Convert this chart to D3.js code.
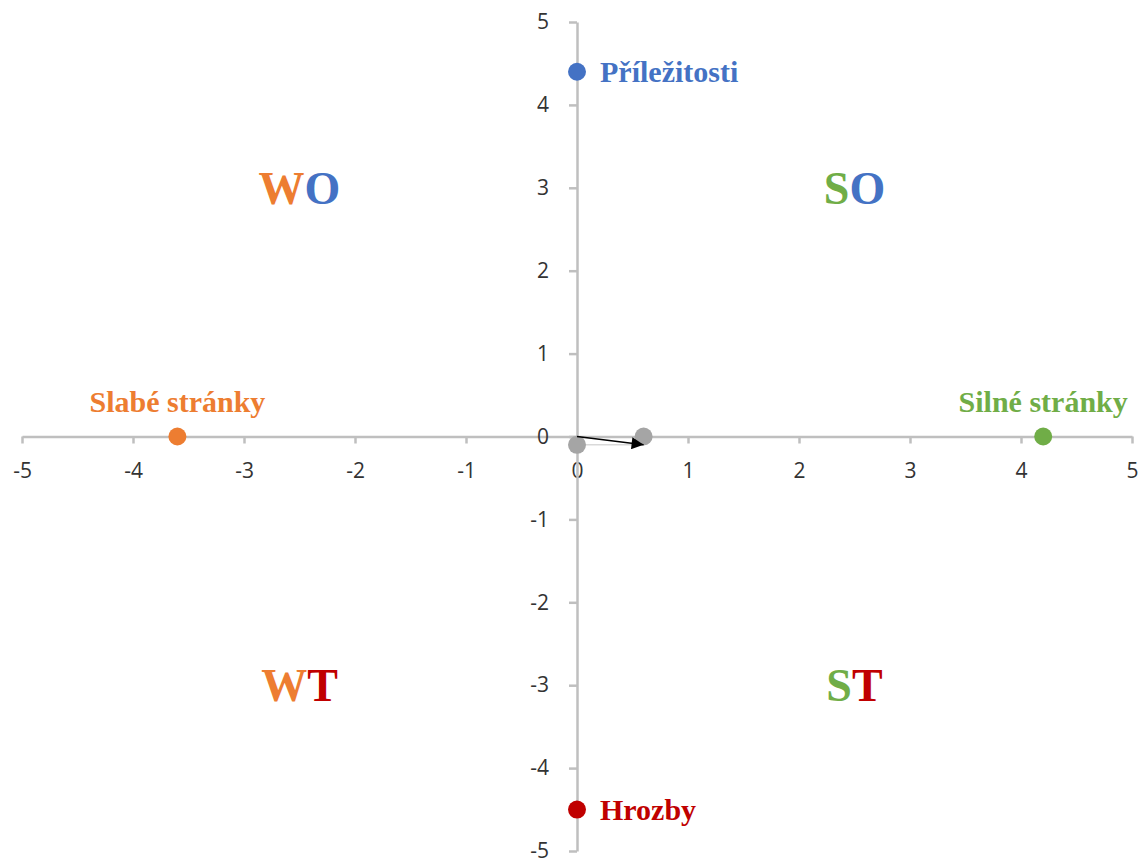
<!DOCTYPE html>
<html>
<head>
<meta charset="utf-8">
<script src="https://cdn.jsdelivr.net/npm/d3@7"></script>
<style>
  body { margin: 0; background: #fff; }
  #svg { width: 1145px; height: 860px; display: block; }
  .axis text { font-family: 'Open Sans', 'Noto Sans', sans-serif; font-size: 21px; fill: #333; }
  .axis path, .axis line { stroke: #bfbfbf; stroke-width: 2.5; }
  .lbl { font-family: 'Liberation Serif', 'Times New Roman', serif; font-weight: bold; }
</style>
</head>
<body>
<svg id="svg"></svg>
<script>
// SWOT points
const pointNames = ['Příležitosti', 'Hrozby', 'Slabé stránky', 'Silné stránky'];
const pointX = [0, 0, -3.6, 4.2];
const pointY = [4.4, -4.5, 0, 0];

// result projections and vector
const grayX = [0, 0.6];
const grayY = [-0.1, 0];
const vectorX = [0, 0.6];
const vectorY = [0, -0.1];

// quadrant captions
const quadrantNames = ['WO', 'SO', 'WT', 'ST'];
const quadrantX = [-2.5, 2.5, -2.5, 2.5];
const quadrantY = [3, 3, -3, -3];

const xTicks = [-5, -4, -3, -2, -1, 0, 1, 2, 3, 4, 5];
const yTicks = [-5, -4, -3, -2, -1, 0, 1, 2, 3, 4, 5];

const colors = {
  'Příležitosti': '#4472c4',
  'Hrozby': '#c00000',
  'Slabé stránky': '#ed7d31',
  'Silné stránky': '#70ad47',
  W: '#ed7d31', S: '#70ad47', O: '#4472c4', T: '#c00000'
};

window.onload = function() {
  const svg = d3.select('#svg');
  const x = d3.scaleLinear().domain([-5, 5]).range([22, 1132]);
  const y = d3.scaleLinear().domain([-5, 5]).range([851, 22]);
  const fmt = d => String(d);

  svg.append('g')
    .classed('axis', true)
    .attr('transform', 'translate(0,' + y(0) + ')')
    .call(d3.axisBottom(x).tickValues(xTicks).tickFormat(fmt).tickSizeInner(7).tickSizeOuter(0).tickPadding(20));

  svg.append('g')
    .classed('axis', true)
    .attr('transform', 'translate(' + x(0) + ',0)')
    .call(d3.axisLeft(y).tickValues(yTicks).tickFormat(fmt).tickSizeInner(8).tickSizeOuter(0).tickPadding(20));

  // quadrant captions
  quadrantNames.forEach((q, i) => {
    const t = svg.append('text')
      .classed('lbl', true)
      .attr('x', x(quadrantX[i]))
      .attr('y', y(quadrantY[i]))
      .attr('text-anchor', 'middle')
      .attr('dy', '0.35em')
      .style('font-size', '46px');
    q.split('').forEach(ch => {
      t.append('tspan').attr('fill', colors[ch]).text(ch);
    });
  });

  // faint connector and gray points
  svg.append('line')
    .attr('x1', x(grayX[0]))
    .attr('y1', y(grayY[0]))
    .attr('x2', x(grayX[1]))
    .attr('y2', y(grayY[0]))
    .style('stroke', '#d9d9d9')
    .style('stroke-width', 1.5);

  svg.append('g')
    .selectAll('circle')
    .data(grayX)
    .enter()
    .append('circle')
    .attr('cx', d => x(d))
    .attr('cy', (d, i) => y(grayY[i]))
    .attr('r', 9)
    .attr('fill', '#a5a5a5');

  // vector arrow
  svg.append('defs')
    .append('marker')
    .attr('id', 'arrow')
    .attr('viewBox', '0 0 10 10')
    .attr('refX', 10)
    .attr('refY', 5)
    .attr('markerWidth', 12)
    .attr('markerHeight', 8)
    .attr('markerUnits', 'strokeWidth')
    .attr('orient', 'auto')
    .append('path')
    .attr('d', 'M0,0L10,5L0,10z')
    .attr('fill', '#000');

  svg.append('line')
    .attr('x1', x(vectorX[0]))
    .attr('y1', y(vectorY[0]))
    .attr('x2', x(vectorX[1]))
    .attr('y2', y(vectorY[1]))
    .style('stroke', '#000')
    .style('stroke-width', 1.5)
    .attr('marker-end', 'url(#arrow)');

  // SWOT points + labels
  const pts = svg.append('g');
  pointNames.forEach((name, i) => {
    const cx = x(pointX[i]);
    const cy = y(pointY[i]);
    pts.append('circle')
      .attr('cx', cx)
      .attr('cy', cy)
      .attr('r', 9)
      .attr('fill', colors[name]);

    const onYAxis = pointX[i] === 0;
    pts.append('text')
      .classed('lbl', true)
      .attr('x', onYAxis ? cx + 23 : cx)
      .attr('y', onYAxis ? cy : cy - 35)
      .attr('dy', '0.35em')
      .attr('text-anchor', onYAxis ? 'start' : 'middle')
      .attr('fill', colors[name])
      .style('font-size', '30px')
      .text(name);
  });
};
</script>
</body>
</html>
